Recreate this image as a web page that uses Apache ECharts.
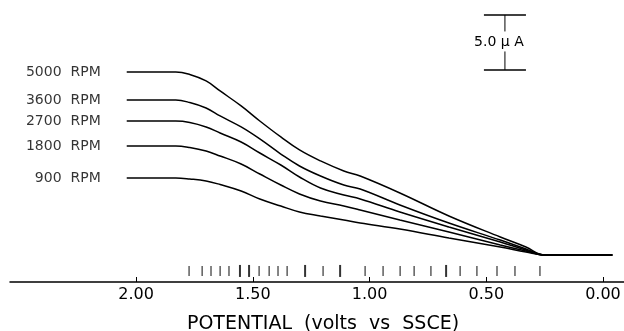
<!DOCTYPE html>
<html>
<head>
<meta charset="utf-8">
<script src="https://cdn.jsdelivr.net/npm/echarts@6/dist/echarts.min.js"></script>
<style>
html,body{margin:0;padding:0;background:#fff;}
#chart{width:624px;height:331px;}
</style>
</head>
<body>
<div id="chart"></div>
<script>
// Potential (V vs SSCE) at which the currents were read
const potentials = [2.04, 1.83, 1.77, 1.70, 1.64, 1.55, 1.47, 1.38, 1.30, 1.21, 1.11, 1.04, 0.87, 0.66, 0.44, 0.33, 0.25, -0.04];
// Current (µA) for each rotation rate
const rpmLabels = ['5000  RPM', '3600  RPM', '2700  RPM', '1800  RPM', '900  RPM'];
const i5000 = [16.64, 16.64, 16.41, 15.82, 14.91, 13.55, 12.18, 10.73, 9.55, 8.55, 7.64, 7.18, 5.64, 3.55, 1.64, 0.73, 0, 0];
const i3600 = [14.09, 14.09, 13.86, 13.36, 12.64, 11.64, 10.55, 9.18, 8.09, 7.18, 6.36, 6.00, 4.55, 2.91, 1.36, 0.55, 0, 0];
const i2700 = [12.18, 12.18, 12.05, 11.64, 11.09, 10.27, 9.27, 8.18, 7.09, 6.09, 5.45, 5.09, 3.91, 2.55, 1.18, 0.45, 0, 0];
const i1800 = [9.91, 9.91, 9.77, 9.45, 9.00, 8.27, 7.36, 6.36, 5.55, 4.91, 4.45, 4.09, 3.18, 2.09, 0.91, 0.36, 0, 0];
const i900  = [7.00, 7.00, 6.91, 6.73, 6.41, 5.82, 5.09, 4.45, 3.91, 3.55, 3.18, 2.91, 2.36, 1.55, 0.73, 0.27, 0, 0];
const currents = [i5000, i3600, i2700, i1800, i900];
// Marker row of potentials
const markPotentials = [1.773, 1.717, 1.679, 1.640, 1.602, 1.473, 1.430, 1.392, 1.353, 1.199, 1.019, 0.942, 0.869, 0.809, 0.737, 0.612, 0.540, 0.454, 0.377, 0.270];
const markPotentialsBold = [1.555, 1.516, 1.276, 1.126, 0.672];
const markLevel = -1.45;
// Axis tick labels
const tickValues = [0, 0.5, 1.0, 1.5, 2.0];
// Scale bar: 5.0 µA
const scaleBarAmps = 5.0;
const scaleBarLabel = '5.0 \u03bc A';
const scaleBarBase = 16.82;
const scaleBarPotentials = [0.51, 0.33, 0.42];

const FONT = 'DejaVu Sans';
const chart = echarts.init(document.getElementById('chart'), null, {renderer: 'canvas'});

const curveSeries = currents.map((arr, k) => ({
  type: 'line',
  name: rpmLabels[k],
  data: arr.map((v, j) => [potentials[j], v]),
  smooth: 0.4,
  showSymbol: false,
  symbol: 'none',
  lineStyle: {color: '#000', width: 1.5},
  silent: true,
  z: 3
}));

const labelSeries = {
  type: 'scatter',
  silent: true,
  symbolSize: 0,
  data: currents.map((arr, k) => ({
    value: [potentials[0], arr[0]],
    label: {formatter: rpmLabels[k]}
  })),
  label: {show: true, position: 'left', distance: 26, color: '#000', fontFamily: FONT, fontSize: 14}
};

const option = {
  backgroundColor: '#fff',
  animation: false,
  grid: {left: 10, right: 0, top: 0, bottom: 49, outerBoundsMode: 'none', containLabel: false},
  xAxis: {
    type: 'value',
    inverse: true,
    min: -0.09,
    max: 2.54,
    name: 'POTENTIAL  (volts  vs  SSCE)',
    nameLocation: 'middle',
    nameGap: 33,
    nameTextStyle: {color: '#000', fontFamily: FONT, fontSize: 19, padding: [0, 0, 0, 12]},
    axisLine: {onZero: false, lineStyle: {color: '#000', width: 1.5}},
    axisTick: {show: true, inside: true, length: 5, customValues: tickValues, lineStyle: {color: '#000', width: 1}},
    axisLabel: {show: true, customValues: tickValues, margin: 5, color: '#000', fontFamily: FONT, fontSize: 16,
      formatter: v => v.toFixed(2)},
    splitLine: {show: false}
  },
  yAxis: {
    type: 'value',
    min: -2.4545,
    max: 23.18,
    show: false,
    splitLine: {show: false}
  },
  series: curveSeries.concat([
    labelSeries,
    {
      type: 'scatter',
      data: markPotentials.map(p => [p, markLevel]),
      symbol: 'rect',
      symbolSize: [1.2, 10],
      itemStyle: {color: '#000'},
      silent: true
    },
    {
      type: 'scatter',
      data: markPotentialsBold.map(p => [p, markLevel]),
      symbol: 'rect',
      symbolSize: [2, 12],
      itemStyle: {color: '#000'},
      silent: true
    },
    {
      type: 'custom',
      silent: true,
      data: [[scaleBarPotentials[0], scaleBarPotentials[1], scaleBarPotentials[2], scaleBarBase, scaleBarBase + scaleBarAmps]],
      renderItem: function (params, api) {
        const a = api.coord([api.value(0), api.value(3)]);
        const b = api.coord([api.value(1), api.value(4)]);
        const c = api.coord([api.value(2), api.value(3)]);
        const xc = c[0];
        const yb = a[1], yt = b[1];
        const ym = (yb + yt) / 2;
        const st = {stroke: '#000', lineWidth: 1.5};
        return {
          type: 'group',
          children: [
            {type: 'line', shape: {x1: a[0], y1: yt, x2: b[0], y2: yt}, style: st},
            {type: 'line', shape: {x1: a[0], y1: yb, x2: b[0], y2: yb}, style: st},
            {type: 'line', shape: {x1: xc, y1: yt, x2: xc, y2: ym - 11}, style: {stroke: '#000', lineWidth: 1}},
            {type: 'line', shape: {x1: xc, y1: ym + 9, x2: xc, y2: yb}, style: {stroke: '#000', lineWidth: 1}},
            {type: 'text', x: xc - 6, y: ym, style: {text: scaleBarLabel, fill: '#000', font: '14px "DejaVu Sans"',
              align: 'center', verticalAlign: 'middle'}}
          ]
        };
      },
      z: 4
    }
  ])
};
chart.setOption(option);
</script>
</body>
</html>
